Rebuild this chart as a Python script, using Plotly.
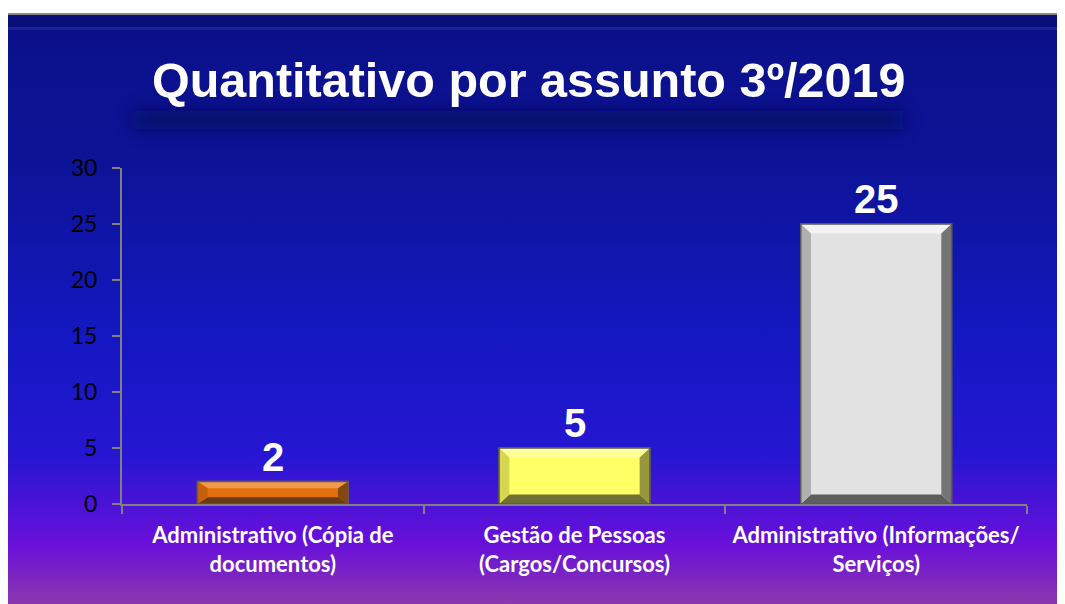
import base64
import plotly.graph_objects as go

categories = ["Administrativo (Cópia de<br>documentos)",
              "Gestão de Pessoas<br>(Cargos/Concursos)",
              "Administrativo (Informações/<br>Serviços)"]
values = [2, 5, 25]
face_colors = ["#e2700c", "#ffff66", "#e2e2e2"]
top_colors = ["#f29a48", "#ffff9a", "#f2f2f2"]
bottom_colors = ["#6a3a12", "#707034", "#5e5e5e"]
left_colors = ["#c8600a", "#d6d650", "#b0b0b0"]
right_colors = ["#86460e", "#96963e", "#747474"]
y_ticks = [0, 5, 10, 15, 20, 25, 30]
title_text = "Quantitativo por assunto 3º/2019"

# page has an 8px body margin; figure coords = page coords - 8
OFF = 8
W, H = 1065 - OFF, 604 - OFF
L, R, T, B = 122 - OFF, W - (1027 - OFF), 168 - OFF, H - (504 - OFF)
pw, ph = W - L - R, H - T - B

def px_x(x):  # page px -> paper
    return (x - OFF - L) / pw

def px_y(y):
    return (H - B - (y - OFF)) / ph

# background frame (gradient) as SVG, in page coords
fx0, fy0, fx1, fy1 = 8, 13, 1065, 604
fw, fh = fx1 - fx0, fy1 - fy0
svg = f'''<svg xmlns="http://www.w3.org/2000/svg" width="{fw}" height="{fh}" viewBox="0 0 {fw} {fh}" preserveAspectRatio="none">
<defs>
<linearGradient id="g" x1="0" y1="0" x2="0" y2="1">
<stop offset="0" stop-color="#0b1088"/>
<stop offset="0.25" stop-color="#0d1396"/>
<stop offset="0.55" stop-color="#1418c2"/>
<stop offset="0.75" stop-color="#2616d2"/>
<stop offset="0.9" stop-color="#6a10da"/>
<stop offset="1" stop-color="#8a38ac"/>
</linearGradient>
<filter id="b" x="-20%" y="-300%" width="140%" height="700%"><feGaussianBlur stdDeviation="9"/></filter>
</defs>
<rect x="0" y="0" width="{fw}" height="{fh}" fill="url(#g)"/>
<rect x="0" y="0" width="{fw}" height="14" fill="#0a0e78"/>
<rect x="0" y="14" width="{fw}" height="3" fill="#2a34b0" opacity="0.5"/>
<rect x="{fw - 6}" y="14" width="6" height="{fh - 14}" fill="#000040" opacity="0.15"/>
<rect x="125" y="98" width="770" height="18" fill="#060a58" opacity="0.8" filter="url(#b)"/>
<rect x="0" y="0" width="{fw}" height="2" fill="#8a8a8a"/>
</svg>'''
svg_uri = "data:image/svg+xml;base64," + base64.b64encode(svg.encode()).decode()

fig = go.Figure()
bar_w = 0.5
fig.add_trace(go.Bar(
    x=categories, y=values, width=bar_w,
    marker=dict(color=face_colors, line=dict(color="#5a5a5a", width=1.5)),
    hoverinfo="skip", showlegend=False,
))

shapes = []
for i, v in enumerate(values):
    x0, x1 = i - bar_w / 2, i + bar_w / 2
    bx = 0.034
    by = min(0.85, v * 0.3)
    polys = [
        (top_colors[i], [(x0, v), (x1, v), (x1 - bx, v - by), (x0 + bx, v - by)]),
        (bottom_colors[i], [(x0, 0), (x1, 0), (x1 - bx, by), (x0 + bx, by)]),
        (left_colors[i], [(x0, 0), (x0, v), (x0 + bx, v - by), (x0 + bx, by)]),
        (right_colors[i], [(x1, 0), (x1, v), (x1 - bx, v - by), (x1 - bx, by)]),
    ]
    for col, pts in polys:
        path = "M " + " L ".join(f"{a},{b}" for a, b in pts) + " Z"
        shapes.append(dict(type="path", path=path, xref="x", yref="y",
                           fillcolor=col, line=dict(width=0), layer="above"))
    shapes.append(dict(type="rect", x0=x0, x1=x1, y0=0, y1=v, xref="x", yref="y",
                       fillcolor="rgba(0,0,0,0)", line=dict(color="#5a5a5a", width=1.5),
                       layer="above"))

annotations = []
for c, v in zip(categories, values):
    annotations.append(dict(x=c, y=v, xref="x", yref="y", text=f"<b>{v}</b>",
                            showarrow=False, yanchor="bottom", yshift=1,
                            font=dict(family="Liberation Sans, Arial", size=40, color="white")))
annotations.append(dict(x=px_x(528), y=px_y(80), xref="paper", yref="paper",
                        text=f"<b>{title_text}</b>", showarrow=False,
                        xanchor="center", yanchor="middle",
                        font=dict(family="Liberation Sans, Arial", size=48.5, color="white")))

fig.update_layout(
    width=W, height=H,
    margin=dict(l=L, r=R, t=T, b=B, pad=0),
    paper_bgcolor="white", plot_bgcolor="rgba(0,0,0,0)",
    images=[dict(source=svg_uri, xref="paper", yref="paper",
                 x=px_x(fx0), y=px_y(fy0), sizex=px_x(fx1) - px_x(fx0),
                 sizey=px_y(fy0) - px_y(fy1), xanchor="left", yanchor="top",
                 sizing="stretch", layer="below")],
    shapes=shapes, annotations=annotations,
    bargap=0.5,
    xaxis=dict(type="category", showline=True, linecolor="#808080", linewidth=2,
               ticks="outside", tickson="boundaries", ticklen=8, tickcolor="#808080",
               tickwidth=2, showgrid=False, zeroline=False, ticklabelstandoff=11,
               tickfont=dict(family="Lato", size=22, color="white", weight="bold"),
               range=[-0.5, 2.5]),
    yaxis=dict(range=[0, 30], tickvals=y_ticks, showline=True, linecolor="#808080",
               linewidth=2, ticks="outside", ticklen=8, tickcolor="#808080", tickwidth=2,
               showgrid=False, zeroline=False, ticklabelstandoff=10,
               tickfont=dict(family="Lato", size=23, color="black")),
)

fig.write_html("out.html")
